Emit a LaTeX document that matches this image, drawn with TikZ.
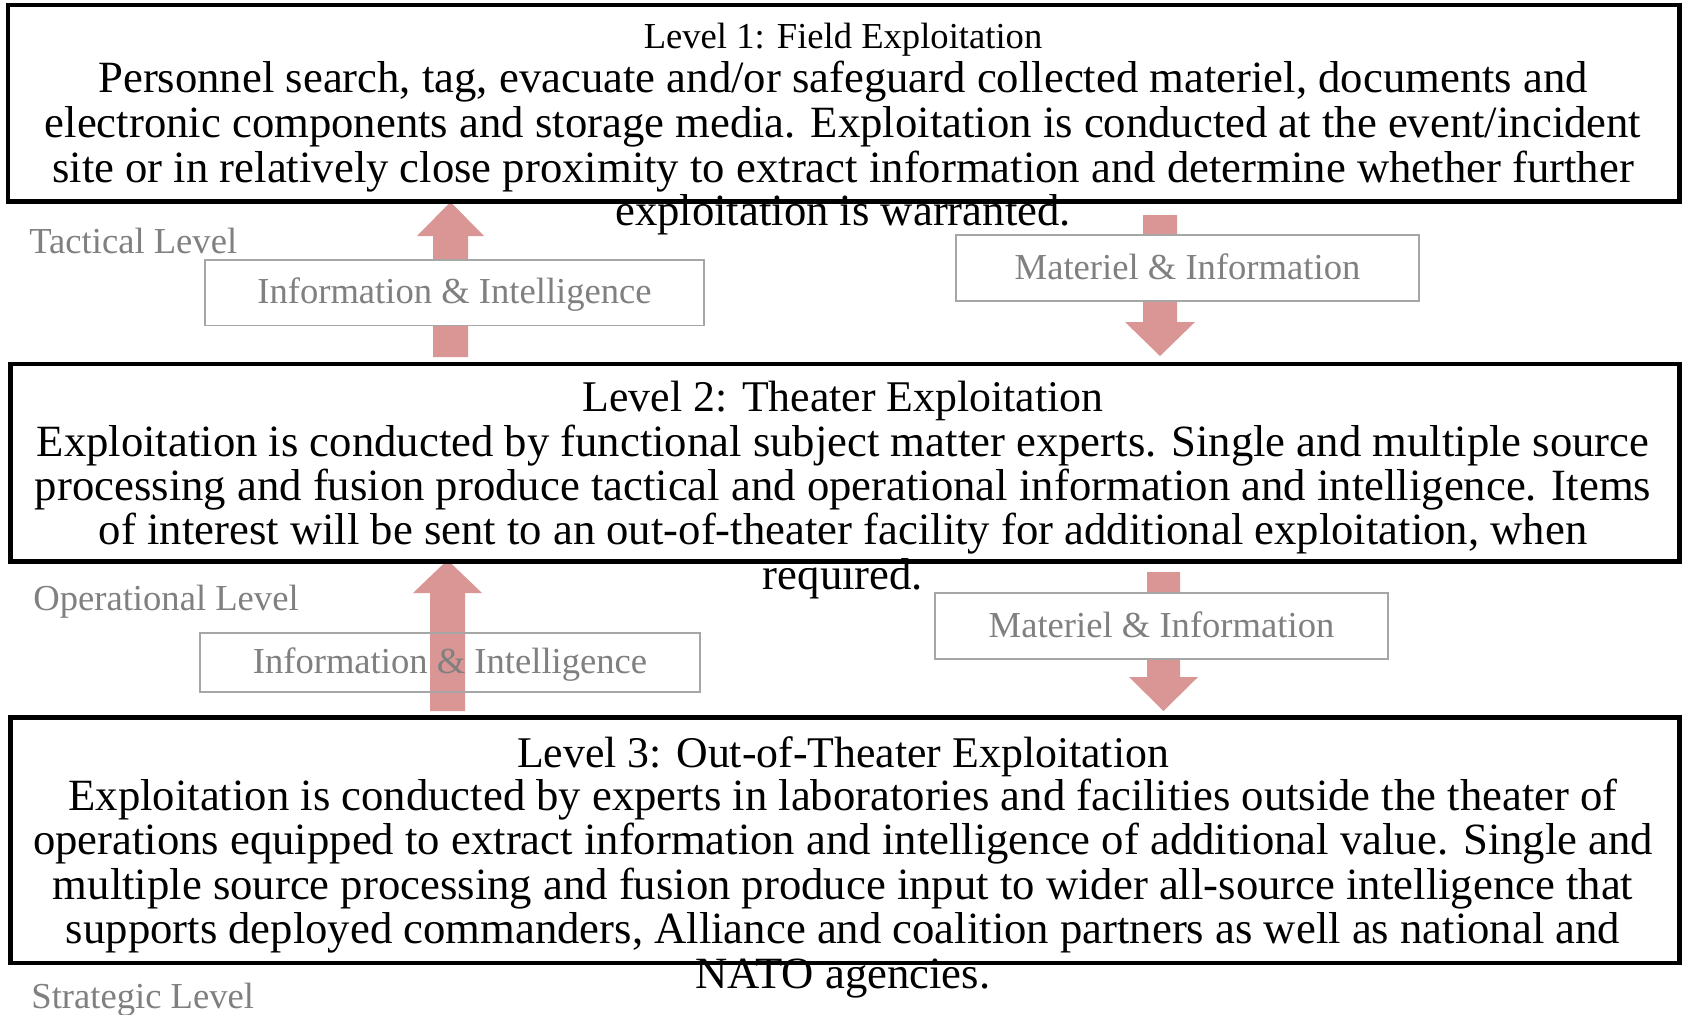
\documentclass[tikz,border=0pt]{standalone}
\usepackage{fontspec}
\setmainfont{Liberation Serif}
\newcommand{\myBodyFont}{\fontsize{22.35}{27}\selectfont}
\newcommand{\myTitleFont}{\fontsize{21.9}{27}\selectfont}
\newcommand{\mySmallFont}{\fontsize{18.3}{22}\selectfont}
\definecolor{arrowpink}{RGB}{217,150,148}
\definecolor{boxgray}{RGB}{166,166,166}
\definecolor{labelgray}{RGB}{128,128,128}
\tikzset{
  levelbox/.style={draw=black, line width=2.35pt, rectangle, inner sep=0pt},
  flowbox/.style={draw=boxgray, line width=0.75pt, rectangle, inner sep=0pt,
    font=\mySmallFont, text=labelgray, text height=11pt, text depth=0pt},
  bodyline/.style={anchor=base, inner sep=0pt, font=\myBodyFont},
  bigtitle/.style={anchor=base, inner sep=0pt, font=\myTitleFont},
  smalltitle/.style={anchor=base, inner sep=0pt, font=\mySmallFont},
  sidelabel/.style={anchor=base west, inner sep=0pt, font=\mySmallFont, text=labelgray},
  blockarrow/.style={fill=arrowpink}
}
\begin{document}
\begin{tikzpicture}[x=0.5pt,y=-0.5pt]
\useasboundingbox (0,0) rectangle (1685,1014);
\fill[white] (0,0) rectangle (1685,1014);

% block arrows
\fill[blockarrow] (433,357) -- (433,236) -- (417,236) -- (450.5,202) -- (484,236) -- (468,236) -- (468,357) -- cycle;
\fill[blockarrow] (430,711) -- (430,593) -- (413,593) -- (447.5,560) -- (482,593) -- (465,593) -- (465,711) -- cycle;
\fill[blockarrow] (1143,215) -- (1143,322) -- (1125,322) -- (1160,356) -- (1195,322) -- (1177,322) -- (1177,215) -- cycle;
\fill[blockarrow] (1147,572) -- (1147,677) -- (1129,677) -- (1163.5,711) -- (1198,677) -- (1180,677) -- (1180,572) -- cycle;

% level boxes
\node[levelbox, minimum width=835.75pt, minimum height=98.25pt] (L1) at (843.75,103.25) {};
\node[levelbox, minimum width=834.4pt, minimum height=98.75pt] (L2) at (845.1,462.75) {};
\node[levelbox, minimum width=834.4pt, minimum height=122.75pt] (L3) at (845.1,840.25) {};

% flow boxes
\node[flowbox, fill=white, minimum width=249.5pt, minimum height=32.75pt] (I1) at (454.5,292.75) {Information \& Intelligence};
\node[flowbox, fill=white, minimum width=231.5pt, minimum height=33pt] (M1) at (1187.5,268) {Materiel \& Information};
\node[flowbox, minimum width=250pt, minimum height=29.5pt] (I2) at (450,662.5) {Information \& Intelligence};
\node[flowbox, fill=white, minimum width=226.5pt, minimum height=33pt] (M2) at (1161.5,626) {Materiel \& Information};

% level 1 text
\node[smalltitle] (t1) at (843,48) {Level 1: Field Exploitation};
\node[bodyline] (l1a) at (843,92) {Personnel search, tag, evacuate and/or safeguard collected materiel, documents and};
\node[bodyline] (l1b) at (843,137) {electronic components and storage media. Exploitation is conducted at the event/incident};
\node[bodyline] (l1c) at (843,182) {site or in relatively close proximity to extract information and determine whether further};
\node[bodyline] (l1d) at (843,225) {exploitation is warranted.};

% level 2 text
\node[bigtitle] (t2) at (843,411) {Level 2: Theater Exploitation};
\node[bodyline] (l2a) at (843,456) {Exploitation is conducted by functional subject matter experts. Single and multiple source};
\node[bodyline] (l2b) at (843,500) {processing and fusion produce tactical and operational information and intelligence. Items};
\node[bodyline] (l2c) at (843,544) {of interest will be sent to an out-of-theater facility for additional exploitation, when};
\node[bodyline] (l2d) at (843,589) {required.};

% level 3 text
\node[bigtitle] (t3) at (843,767) {Level 3: Out-of-Theater Exploitation};
\node[bodyline] (l3a) at (843,810) {Exploitation is conducted by experts in laboratories and facilities outside the theater of};
\node[bodyline] (l3b) at (843,854.5) {operations equipped to extract information and intelligence of additional value. Single and};
\node[bodyline] (l3c) at (843,899) {multiple source processing and fusion produce input to wider all-source intelligence that};
\node[bodyline] (l3d) at (843,943.5) {supports deployed commanders, Alliance and coalition partners as well as national and};
\node[bodyline] (l3e) at (843,988) {NATO agencies.};

% side labels
\node[sidelabel] (tac) at (29,253) {Tactical Level};
\node[sidelabel] (ope) at (33,610) {Operational Level};
\node[sidelabel] (str) at (31,1008) {Strategic Level};
\end{tikzpicture}
\end{document}
